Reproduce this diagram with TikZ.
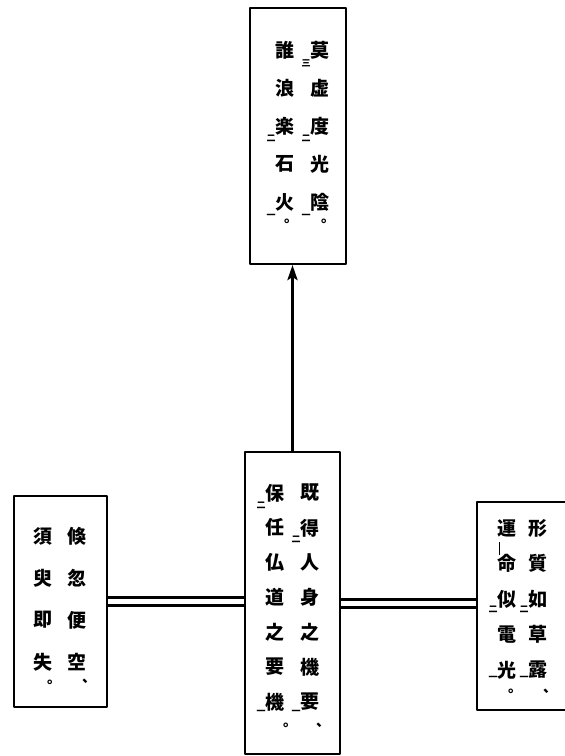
\documentclass[tikz,border=0pt]{standalone}
\usepackage{fontspec}
\newfontfamily\jpfont{Noto Sans CJK JP}
\usetikzlibrary{arrows.meta,positioning}

\begin{document}
\begin{tikzpicture}[x=1pt,y=-1pt,>={Stealth[length=15pt,width=10pt,inset=3pt]},line join=round,
    box/.style={draw,line width=2pt,inner sep=0pt},
    ch/.style={font=\jpfont\bfseries\fontsize{19}{19}\selectfont,inner sep=0pt},
    pt/.style={font=\jpfont\bfseries\fontsize{14}{14}\selectfont,inner sep=0pt},
    mk/.style={font=\jpfont\bfseries\fontsize{9}{9}\selectfont,inner sep=0pt},
    pair/.style={double,line width=3pt,double distance=5pt}]
    \path[use as bounding box,clip] (0,0) rectangle (565,756);
    % boxes
    \node[box,minimum width=96pt,minimum height=256pt] (top) at (298,136) {};
    \node[box,minimum width=95pt,minimum height=302pt] (mid) at (292.5,603) {};
    \node[box,minimum width=93pt,minimum height=211pt] (left) at (60.5,601.5) {};
    \node[box,minimum width=100pt,minimum height=208pt] (right) at (527,606) {};
    % links
    \draw[->,line width=3pt] (mid.north) -- (mid.north |- top.south);
    \draw[pair] (left.east) -- (left.east -| mid.west);
    \draw[pair] (mid.east) -- (mid.east -| right.west);
    % top box
    \foreach \c [count=\i from 0] in {莫,虚,度,光,陰} \node[ch] at (320,50+38*\i) {\c};
    \foreach \c [count=\i from 0] in {誰,浪,楽,石,火} \node[ch] at (285,50+38*\i) {\c};
    \node[pt] at (328,221) {。};
    \node[pt] at (291,221) {。};
    \node[mk] at (306,63) {三};
    \node[mk] at (306,138) {二};
    \node[mk] at (306,216) {一};
    \node[mk] at (271,138) {二};
    \node[mk] at (271,216) {一};
    % middle box
    \foreach \c [count=\i from 0] in {既,得,人,身,之,機,要} \node[ch] at (310,493+34.8*\i) {\c};
    \foreach \c [count=\i from 0] in {保,任,仏,道,之,要,機} \node[ch] at (275,493+34.8*\i) {\c};
    \node[pt] at (323,725) {、};
    \node[pt] at (290,725) {。};
    \node[mk] at (261,712) {一};
    \node[mk] at (296,712) {一};
    \node[mk] at (261,505) {二};
    \node[mk] at (296,539) {二};
    % left box
    \foreach \c [count=\i from 0] in {倏,忽,便,空} \node[ch] at (77,536+42*\i) {\c};
    \foreach \c [count=\i from 0] in {須,臾,即,失} \node[ch] at (43,536+42*\i) {\c};
    \node[pt] at (89,681) {、};
    \node[pt] at (54,682) {。};
    % right box
    \foreach \c [count=\i from 0] in {形,質,如,草,露} \node[ch] at (538,528+35.5*\i) {\c};
    \foreach \c [count=\i from 0] in {運,命,似,電,光} \node[ch] at (507,528+35.5*\i) {\c};
    \node[pt] at (550,691) {、};
    \node[pt] at (515,691) {。};
    \node[mk] at (493,609) {二};
    \node[mk] at (524,609) {二};
    \node[mk] at (493,678) {一};
    \node[mk] at (524,678) {一};
    \draw[line width=0.8pt] (499,542) -- (499,555);
\end{tikzpicture}
\end{document}
